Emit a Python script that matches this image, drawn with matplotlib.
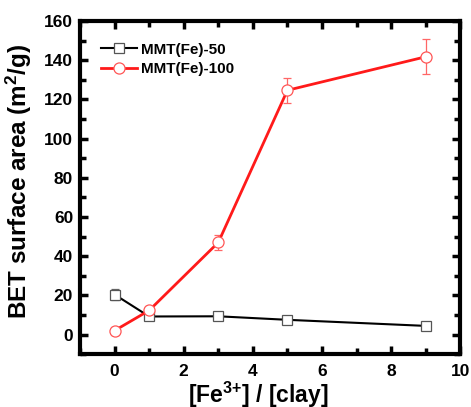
import matplotlib
matplotlib.use('Agg')
import matplotlib.pyplot as plt
from matplotlib.ticker import MultipleLocator

# ----------------- data
ratio = [0, 1, 3, 5, 9]
bet50 = [20.4, 9.2, 9.3, 7.5, 4.4]
err50 = [3.0, 1.5, 1.0, 1.5, 1.8]
bet100 = [2.0, 12.3, 47.0, 124.7, 141.8]
err100 = [2.0, 2.5, 4.0, 6.4, 9.0]
names = ['MMT(Fe)-50', 'MMT(Fe)-100']

plt.rcParams['font.family'] = ['Liberation Sans', 'DejaVu Sans']
plt.rcParams['font.weight'] = 'bold'
plt.rcParams['mathtext.fontset'] = 'custom'
plt.rcParams['mathtext.rm'] = 'Liberation Sans:bold'
plt.rcParams['mathtext.bf'] = 'Liberation Sans:bold'
plt.rcParams['mathtext.default'] = 'bf'

fig = plt.figure(figsize=(4.71, 4.07), dpi=100)
ax = fig.add_axes([0.170, 0.130, 0.807, 0.818])

ax.errorbar(ratio, bet50, yerr=err50, fmt='none', ecolor='#666666',
            elinewidth=0.9, capsize=3, capthick=0.9, zorder=2)
ax.errorbar(ratio, bet100, yerr=err100, fmt='none', ecolor='#ff6666',
            elinewidth=0.9, capsize=3, capthick=0.9, zorder=2)
ax.plot(ratio, bet50, color='black', lw=1.5, marker='s', ms=7,
        mfc='white', mec='#555555', mew=0.9, label=names[0], zorder=3)
ax.plot(ratio, bet100, color='#ff1a1a', lw=2.0, marker='o', ms=8,
        mfc='white', mec='#ff5555', mew=0.9, label=names[1], zorder=3)

ax.set_xlim(-1, 10)
ax.set_ylim(-10, 160)
ax.xaxis.set_major_locator(MultipleLocator(2))
ax.xaxis.set_minor_locator(MultipleLocator(1))
ax.yaxis.set_major_locator(MultipleLocator(20))
ax.yaxis.set_minor_locator(MultipleLocator(10))
ax.tick_params(which='both', direction='in', top=True, right=True,
               width=2.5, labelsize=12.5)
ax.tick_params(axis='x', pad=7)
ax.tick_params(axis='y', pad=5)
ax.tick_params(which='major', length=6)
ax.tick_params(which='minor', length=4)
for sp in ax.spines.values():
    sp.set_linewidth(3)
for lab in ax.get_xticklabels() + ax.get_yticklabels():
    lab.set_fontweight('bold')

ax.set_xlabel('[Fe$^{3{+}}$] / [clay]', fontsize=16.5, fontweight='bold')
ax.xaxis.set_label_coords(0.47, -0.077)
ax.set_ylabel('BET surface area (m$^{2}$/g)', fontsize=17.5, fontweight='bold')
ax.yaxis.set_label_coords(-0.12, 0.52)

leg = ax.legend(loc='upper left', frameon=False, fontsize=11, handlelength=2.3,
                handletextpad=0.3, borderaxespad=1.0, labelspacing=0.35)
for t in leg.get_texts():
    t.set_fontweight('bold')

fig.savefig('out.png', dpi=100)
